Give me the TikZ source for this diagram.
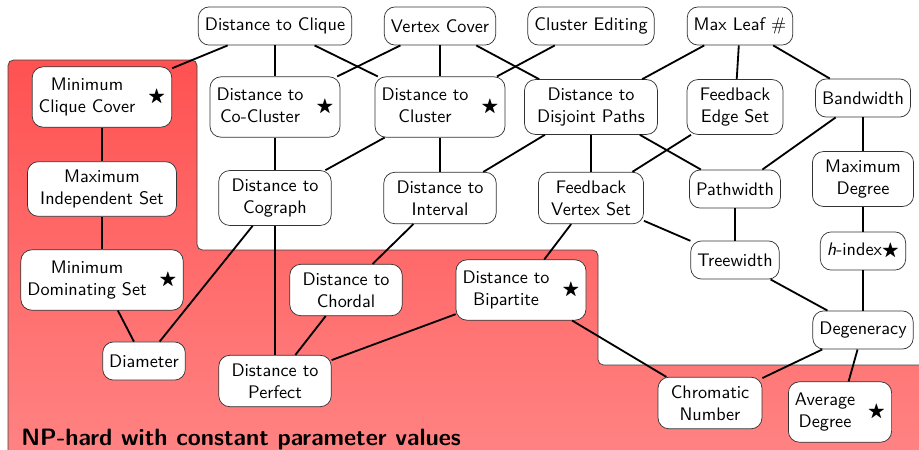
\documentclass[tikz,border=0pt]{standalone}
\usepackage{amssymb}
\renewcommand{\familydefault}{\sfdefault}

\begin{document}
\begin{tikzpicture}[x=0.55pt,y=-0.55pt,
  param/.style={draw=black!80,thin,fill=white,rounded corners=6pt,align=center,
    inner xsep=3.6pt,inner ysep=4.6pt,minimum height=21pt},
  wide/.style={param,inner xsep=7pt},
  link/.style={line width=1pt}]
\useasboundingbox (0,0) rectangle (919,449);
%hard region
\shadedraw [draw=black!75,top color=red!68,bottom color=red!48,rounded corners=3pt]
  (8,470) -- (8,60) -- (197,60) -- (197,250) -- (598,250) -- (598,365)
  -- (940,365) -- (940,470) -- cycle;
\node [anchor=base west,font=\fontsize{13}{15}\selectfont\bfseries] (hard) at (15,445) {NP-hard with constant parameter values};
%top row
\node [param] (clique) at (275,26) {Distance to Clique};
\node [param] (vc) at (440,26) {Vertex Cover};
\node [param] (cedit) at (591,26) {Cluster Editing};
\node [param] (maxleaf) at (740,26) {Max Leaf $\#$};
%second row
\node [param] (mcc) at (102,97) {\begin{tabular}{@{}c@{}}Minimum\\Clique Cover\end{tabular}\hspace{7pt}$\bigstar$};
\node [param] (cocluster) at (275,107) {\begin{tabular}{@{}c@{}}Distance to\\Co-Cluster\end{tabular}\hspace{7pt}$\bigstar$};
\node [param] (cluster) at (440,107) {\begin{tabular}{@{}c@{}}Distance to\\Cluster\end{tabular}\hspace{7pt}$\bigstar$};
\node [wide] (paths) at (591,107) {Distance to\\Disjoint Paths};
\node [wide] (fes) at (735,107) {Feedback\\Edge Set};
\node [param] (bw) at (863,98) {Bandwidth};
%third row
\node [wide] (mis) at (102,189) {Maximum\\Independent Set};
\node [wide] (cograph) at (275,198) {Distance to\\Cograph};
\node [wide] (interval) at (440,198) {Distance to\\Interval};
\node [wide] (fvs) at (591,198) {Feedback\\Vertex Set};
\node [param] (pw) at (735,189) {Pathwidth};
\node [wide] (maxdeg) at (863,179) {Maximum\\Degree};
%fourth row
\node [param] (mds) at (102,280) {\begin{tabular}{@{}c@{}}Minimum\\Dominating Set\end{tabular}\hspace{7pt}$\bigstar$};
\node [wide] (chordal) at (346,290) {Distance to\\Chordal};
\node [param] (bip) at (521,290) {\begin{tabular}{@{}c@{}}Distance to\\Bipartite\end{tabular}\hspace{7pt}$\bigstar$};
\node [param] (tw) at (735,260) {Treewidth};
\node [param] (hindex) at (863,251) {\textit{h}-index$\bigstar$};
%bottom
\node [param] (diam) at (144,361) {Diameter};
\node [wide] (perfect) at (275,381) {Distance to\\Perfect};
\node [param] (degen) at (863,330) {Degeneracy};
\node [wide] (chrom) at (710,403) {Chromatic\\Number};
\node [param] (avgdeg) at (840,412) {\begin{tabular}{@{}c@{}}Average\\Degree\end{tabular}\hspace{7pt}$\bigstar$};
%links
\draw [link] (clique) -- (mcc);
\draw [link] (clique) -- (cocluster);
\draw [link] (clique) -- (cluster);
\draw [link] (vc) -- (cocluster);
\draw [link] (vc) -- (cluster);
\draw [link] (vc) -- (paths);
\draw [link] (cedit) -- (cluster);
\draw [link] (maxleaf) -- (paths);
\draw [link] (maxleaf) -- (fes);
\draw [link] (maxleaf) -- (bw);
\draw [link] (mcc) -- (mis);
\draw [link] (cocluster) -- (cograph);
\draw [link] (cluster) -- (cograph);
\draw [link] (cluster) -- (interval);
\draw [link] (paths) -- (interval);
\draw [link] (paths) -- (fvs);
\draw [link] (paths) -- (pw);
\draw [link] (fes) -- (fvs);
\draw [link] (bw) -- (pw);
\draw [link] (bw) -- (maxdeg);
\draw [link] (mis) -- (mds);
\draw [link] (cograph) -- (diam);
\draw [link] (cograph) -- (perfect);
\draw [link] (interval) -- (chordal);
\draw [link] (fvs) -- (bip);
\draw [link] (fvs) -- (tw);
\draw [link] (pw) -- (tw);
\draw [link] (maxdeg) -- (hindex);
\draw [link] (mds) -- (diam);
\draw [link] (chordal) -- (perfect);
\draw [link] (bip) -- (perfect);
\draw [link] (bip) -- (chrom);
\draw [link] (tw) -- (degen);
\draw [link] (hindex) -- (degen);
\draw [link] (degen) -- (chrom);
\draw [link] (degen) -- (avgdeg);
\end{tikzpicture}
\end{document}
